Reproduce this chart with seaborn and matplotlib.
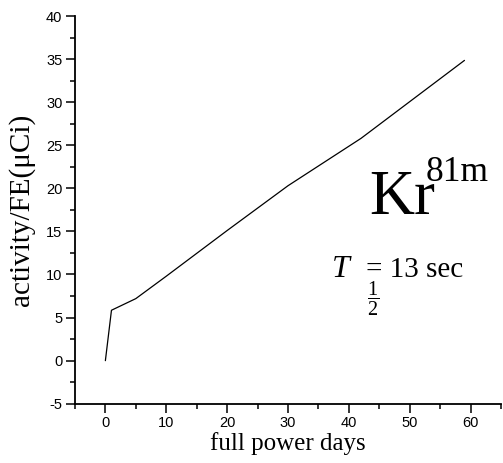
import matplotlib
matplotlib.use("Agg")
import matplotlib.pyplot as plt
import seaborn as sns
import pandas as pd

days = [0, 1, 5, 10, 20, 30, 42, 59]
activity = [0.0, 5.85, 7.2, 9.8, 15.1, 20.3, 25.8, 34.85]

x_ticks = [0, 10, 20, 30, 40, 50, 60]
y_ticks = [-5, 0, 5, 10, 15, 20, 25, 30, 35, 40]

sns.set_style("ticks")
plt.rcParams['mathtext.fontset'] = 'custom'
plt.rcParams['mathtext.rm'] = 'Liberation Serif'
plt.rcParams['mathtext.it'] = 'Liberation Serif:italic'
plt.rcParams['axes.unicode_minus'] = False
plt.rcParams['text.color'] = 'black'
plt.rcParams['axes.labelcolor'] = 'black'
plt.rcParams['xtick.color'] = 'black'
plt.rcParams['ytick.color'] = 'black'
plt.rcParams['axes.edgecolor'] = 'black'

df = pd.DataFrame({"days": days, "activity": activity})

fig = plt.figure(figsize=(5.03, 4.63), dpi=100)
ax = fig.add_axes([0.149, 0.128, 0.847, 0.8374])
sns.lineplot(data=df, x="days", y="activity", color="black", linewidth=0.9, ax=ax)

ax.set_xlim(-5, 65)
ax.set_ylim(-5, 40)
ax.set_xticks(x_ticks)
ax.set_yticks(y_ticks)
ax.set_xticklabels([str(v) for v in x_ticks])
ax.set_yticklabels([str(v) for v in y_ticks])
ax.set_xticks([-5, 5, 15, 25, 35, 45, 55, 65], minor=True)
ax.set_yticks([-2.5, 2.5, 7.5, 12.5, 17.5, 22.5, 27.5, 32.5, 37.5], minor=True)
sns.despine(ax=ax)
for s in ("left", "bottom"):
    ax.spines[s].set_linewidth(1.3)
ax.tick_params(which="major", direction="out", length=6.5, width=1.1, pad=2.5)
ax.tick_params(which="minor", direction="out", length=3.5, width=1.1)
for lab in ax.get_xticklabels() + ax.get_yticklabels():
    lab.set_fontfamily("Liberation Sans")
    lab.set_fontsize(10.5)

ax.set_xlabel("full power days", fontfamily="Liberation Serif", fontsize=18, labelpad=1)
ax.set_ylabel("activity/FE(μCi)", fontfamily="Liberation Serif", fontsize=21, labelpad=8)

ax.text(43.3, 17.0, "Kr", fontfamily="Liberation Serif", fontsize=45, ha="left", va="baseline")
ax.text(52.6, 20.8, "81m", fontfamily="Liberation Serif", fontsize=25.5, ha="left", va="baseline")
ax.text(37.2, 9.74, "T", fontfamily="Liberation Serif", fontstyle="italic", fontsize=23, ha="left", va="baseline")
ax.text(44.0, 7.2, r"$\dfrac{1}{2}$", fontsize=14.5, ha="center", va="center")
ax.text(42.8, 9.74, "= 13 sec", fontfamily="Liberation Serif", fontsize=21, ha="left", va="baseline")

fig.savefig("out.png", dpi=100)
